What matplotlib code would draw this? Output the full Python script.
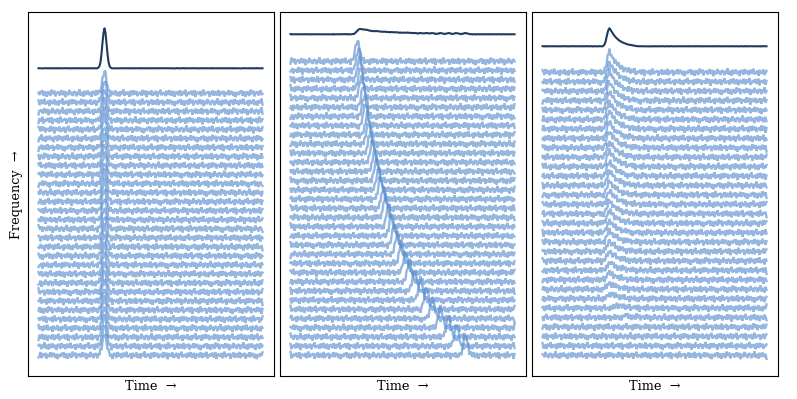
import numpy as np
import matplotlib
matplotlib.use("Agg")
import matplotlib.pyplot as plt

plt.rcParams['font.family'] = 'DejaVu Serif'

noise_values = [
 0.4,-1.2,1.6,-0.3,2.1,-1.8,0.7,1.1,-2.4,0.2,1.4,-0.9,-1.7,2.6,0.5,-0.6,1.9,-2.2,0.9,-0.2,
 1.3,-1.5,0.1,2.2,-1.1,-0.4,1.7,-2.7,0.8,0.3,-1.4,2.4,-0.7,1.0,-1.9,0.6,1.5,-0.1,-2.1,1.2,
 -0.8,2.8,-1.6,0.2,0.9,-2.3,1.8,-0.5,-1.0,2.0,0.4,-1.3,1.1,-2.6,0.7,1.6,-0.2,-1.8,2.3,-0.9,
 0.5,1.4,-2.0,-0.3,1.9,-1.2,0.8,2.5,-1.5,0.0,-0.7,1.3,-2.5,1.7,0.3,-1.1,0.6,2.1,-1.9,-0.4,
 1.0,-2.2,1.5,0.2,-0.6,2.7,-1.7,0.9,-1.0,1.2,-0.2,-2.4,1.8,0.5,-1.4,2.2,-0.8,0.1,1.6,-2.1,
 0.7,-0.5,1.1,-1.6,2.4,-1.2,0.3,1.9,-2.8,0.6,1.3,-0.9,-0.1,2.0,-1.8,0.8,-1.3,1.7,0.2,-2.3,
 1.4,-0.4,2.6,-1.5,0.4,-0.7,1.0,-2.0,1.8,0.0,-1.1,2.3,-0.6,-1.7,1.5,0.9,-2.5,0.5,1.2,-0.3,
 -1.4,2.1,0.7,-1.9,1.6,-0.8,0.2,2.5,-2.2,0.6,-1.0,1.3,-0.5,1.9,-1.6,0.3,2.2,-2.6,1.1,-0.2,
 0.8,-1.2,1.7,-2.1,0.4,2.7,-1.3,-0.6,1.0,-0.1,1.5,-2.4,0.9,-0.9,2.0,-1.7,0.5,1.4,-1.5,-0.3,
 2.4,-2.0,0.1,1.2,-0.7,1.8,-2.3,0.6,0.3,-1.1,2.2,-1.4,0.7,1.6,-0.4,-1.8,1.1,-2.7,0.2]

row_starts_1 = [0,61,17,143,92,38,171,7,120,54,186,29,75,158,101,13,134,47,193,68,
                110,24,165,83,3,149,58,127,35,178]
row_starts_2 = [12,96,153,41,180,70,5,129,88,21,162,50,115,190,33,76,141,9,104,59,
                174,27,137,82,15,156,44,122,66,187,31,98,147]
row_starts_3 = [55,139,18,99,177,40,84,125,2,160,64,112,26,191,73,146,36,107,10,168,
                49,132,86,22,184,60,118,1,152,77,28]

pulse_narrow = [0.02,0.06,0.16,0.36,0.64,0.89,1.00,0.89,0.64,0.36,0.16,0.06,0.02]
pulse_scattered = [0.03,0.10,0.25,0.50,0.75,0.93,1.00,0.93,0.84,0.75,0.66,0.58,0.51,
                   0.45,0.40,0.35,0.31,0.27,0.24,0.21,0.18,0.16,0.14,0.12,0.10,0.09,
                   0.08,0.07,0.06,0.05,0.04,0.03,0.02,0.01]

peak_index_1 = [66]*30
peak_height_1 = [21]*30
peak_index_2 = [67,68,69,70,71,73,74,75,77,78,80,82,84,86,88,90,93,95,98,101,104,107,
                111,115,119,124,130,136,142,150,158,166,175]
peak_height_2 = [21]*33
peak_index_3 = [67]*24 + [68,75,82,82,82,82,82]
peak_height_3 = [20,19,19,18,18,17,17,16,16,15,15,14,14,13,13,12,12,11,11,10,9,8,7,6,5,3,2,0,0,0,0]

stack_height = [262, 294, 283]
summed_gap = [25, 27, 26]
summed_scale = [1.9, 1.9, 1.65]
row_noise_scale = 1.4
summed_noise_scale = 0.35

panels = [
    (row_starts_1, pulse_narrow, 6, peak_index_1, peak_height_1),
    (row_starts_2, pulse_narrow, 6, peak_index_2, peak_height_2),
    (row_starts_3, pulse_scattered, 6, peak_index_3, peak_height_3),
]
lefts = [28, 280, 532]
N = 225
noise = np.array(noise_values)

fig = plt.figure(figsize=(7.97, 3.99), dpi=100)
for p, (starts, shape, centre, peaks, heights) in enumerate(panels):
    ax = fig.add_axes([lefts[p]/797, 22.7/399, 245.5/797, 364/399])
    spacing = stack_height[p] / (len(starts) - 1)
    pulses, noises = [], []
    for r, start in enumerate(starts):
        trace = np.zeros(N)
        for k, s in enumerate(shape):
            trace[peaks[r] + k - centre] += heights[r] * s
        pulses.append(trace)
        noises.append(noise[(start + np.arange(N)) % len(noise)])
    for r in range(len(starts)):
        base = (len(starts) - 1 - r) * spacing
        ax.plot(pulses[r] + noises[r] * row_noise_scale + base, color='#5b8fcf',
                alpha=0.65, lw=1.7, solid_joinstyle='bevel', zorder=2)
    summed = (np.mean(pulses, axis=0) * summed_scale[p]
              + np.mean(noises, axis=0) * summed_noise_scale)
    ax.plot(summed + stack_height[p] + summed_gap[p], color='#1f3b5c', lw=1.5, zorder=3)
    ax.set_xlim(-10.5, 235)
    ax.set_ylim(-21, 343)
    ax.set_xticks([])
    ax.set_yticks([])
    ax.set_xlabel('Time  →', fontsize=9.3, labelpad=2.5)
    if p == 0:
        ax.set_ylabel('Frequency  →', fontsize=9.3, labelpad=3.5)

fig.savefig('out.png', dpi=100)
